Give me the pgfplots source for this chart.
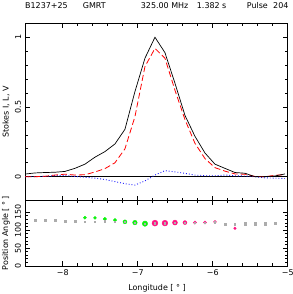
\documentclass[border=0pt]{standalone}
\usepackage{pgfplots}
\pgfplotsset{compat=1.18}
\usepackage{pgfplotstable}
\usepackage{fontspec}
\setmainfont{DejaVu Sans}
\definecolor{pagreen}{rgb}{0.05,0.95,0.05}
\definecolor{papink}{RGB}{255,20,130}
\definecolor{pagray}{RGB}{172,172,172}
\definecolor{vblue}{RGB}{30,30,255}

\pgfplotstableread{
lon     I      L      V
-8.503  0.019  0.000  0.000
-8.370  0.027  0.000  0.000
-8.237  0.030  0.003  0.003
-8.103  0.032  0.012  0.008
-7.970  0.038  0.018  0.010
-7.837  0.060  0.012  0.002
-7.703  0.090  0.014  -0.004
-7.570  0.140  0.034  -0.010
-7.437  0.180  0.058  -0.020
-7.303  0.235  0.100  -0.035
-7.170  0.340  0.200  -0.050
-7.037  0.610  0.430  -0.060
-6.903  0.850  0.790  -0.030
-6.770  1.000  0.920  0.012
-6.637  0.890  0.850  0.043
-6.503  0.670  0.620  0.035
-6.370  0.440  0.410  0.024
-6.237  0.290  0.240  0.012
-6.103  0.170  0.130  0.007
-5.970  0.090  0.065  0.007
-5.837  0.060  0.040  0.012
-5.703  0.030  0.020  0.007
-5.570  0.025  0.018  0.005
-5.437  0.000  0.002  0.000
-5.303  0.000  0.000  -0.008
-5.170  0.005  0.010  -0.010
-5.037  0.020  0.015  -0.013
}\stokes

\pgfplotstableread{
lon     pa
-8.370  128
-8.237  128
-8.103  128
-7.970  124
-7.837  124
-5.837  117
-5.570  118
-5.437  118
-5.303  118
-5.170  119
}\pagrayout

\pgfplotstableread{
lon     pa
-7.703  124
-7.570  124
-7.437  125
-7.303  124
-7.170  123
-7.037  121
-6.903  118
-6.770  119
-6.637  119
-6.503  121
-6.370  121
-6.237  121
-6.103  121
-5.970  122
-5.703  117
}\pagrayin

\begin{document}
\fontsize{8}{9.6}\selectfont
\begin{tikzpicture}[x=1bp,y=1bp]
\path[use as bounding box] (0,0) rectangle (293,294);
\pgfplotsset{
  pgstyle/.style={
    scale only axis,
    width=262.5bp,
    xmin=-8.5, xmax=-5,
    axis line style={line width=0.9bp},
    every tick/.style={line width=0.7bp, black},
    tick align=inside,
    major tick length=4.5bp,
    minor tick length=2.5bp,
    xtick={-8,-7,-6,-5},
    minor x tick num=4,
    minor y tick num=4,
    yticklabel style={rotate=90, anchor=south, inner sep=4bp, font=\fontsize{8}{9.6}\selectfont},
    xticklabel style={anchor=north, inner sep=3.5bp, font=\fontsize{8}{9.6}\selectfont},
  },
  gm/.style={only marks, mark=*, draw=pagreen, fill=pagreen, mark size=#1},
  pk/.style={only marks, mark=*, draw=papink, fill=papink, mark size=#1},
}
% top panel
\begin{axis}[pgstyle,
  at={(25.2bp,93.3bp)}, anchor=south west,
  height=177.4bp,
  ymin=-0.172, ymax=1.1,
  ytick={0,0.5,1},
  yticklabels={0,0.5,1},
  xticklabels={},
]
\addplot[black, line width=0.6bp] coordinates {(-8.5,0) (-5,0)};
\addplot[vblue, line width=0.9bp, dash pattern=on 0.9bp off 2bp] table[x=lon,y=V] {\stokes};
\addplot[red, line width=0.8bp, dash pattern=on 6bp off 3bp] table[x=lon,y=L] {\stokes};
\addplot[black, line width=0.7bp] table[x=lon,y=I] {\stokes};
\end{axis}
% bottom panel
\begin{axis}[pgstyle,
  at={(25.2bp,28bp)}, anchor=south west,
  height=65.3bp,
  ymin=0, ymax=182,
  ytick={0,50,100,150},
  yticklabels={0,50,100,150},
  xticklabels={−8,−7,−6,−5},
]
\addplot[gm=1.5pt] coordinates {(-7.703,134.5)};
\addplot[gm=1.5pt] coordinates {(-7.570,134)};
\addplot[gm=1.7pt] coordinates {(-7.437,131)};
\addplot[gm=1.7pt] coordinates {(-7.303,128)};
\addplot[gm=2.0pt] coordinates {(-7.170,123)};
\addplot[gm=2.3pt] coordinates {(-7.037,121)};
\addplot[gm=2.7pt] coordinates {(-6.903,118)};
\addplot[pk=3.0pt] coordinates {(-6.770,119.5)};
\addplot[pk=2.9pt] coordinates {(-6.637,119.5)};
\addplot[pk=2.5pt] coordinates {(-6.503,121)};
\addplot[pk=2.0pt] coordinates {(-6.370,121)};
\addplot[pk=1.7pt] coordinates {(-6.237,121)};
\addplot[pk=1.6pt] coordinates {(-6.103,121)};
\addplot[pk=1.5pt] coordinates {(-5.970,123)};
\addplot[pk=1.3pt] coordinates {(-5.703,105)};
\addplot[only marks, mark=square*, mark size=0.95pt, color=pagray,
  mark options={yscale=1.25}]
  table[x=lon,y=pa] {\pagrayout};
\addplot[only marks, mark=square*, mark size=0.6pt, color=pagray,
  mark options={yscale=1.3}]
  table[x=lon,y=pa] {\pagrayin};
\end{axis}
% texts
\node[anchor=base west, inner sep=0] at (25,285.7) {B1237+25};
\node[anchor=base west, inner sep=0] at (82.7,285.7) {GMRT};
\node[anchor=base west, inner sep=0] at (140.7,285.7) {325.00 MHz};
\node[anchor=base west, inner sep=0] at (196.7,285.7) {1.382 s};
\node[anchor=base west, inner sep=0] at (246.7,285.7) {Pulse};
\node[anchor=base west, inner sep=0] at (273,285.7) {204};
\node[rotate=90, anchor=center, inner sep=0] at (6,182) {Stokes I, L, V};
\node[rotate=90, anchor=center, inner sep=0] at (6,61) {Position Angle [ ° ]};
\node[anchor=center, inner sep=0] at (157,6) {Longitude [ ° ]};
\end{tikzpicture}
\end{document}
